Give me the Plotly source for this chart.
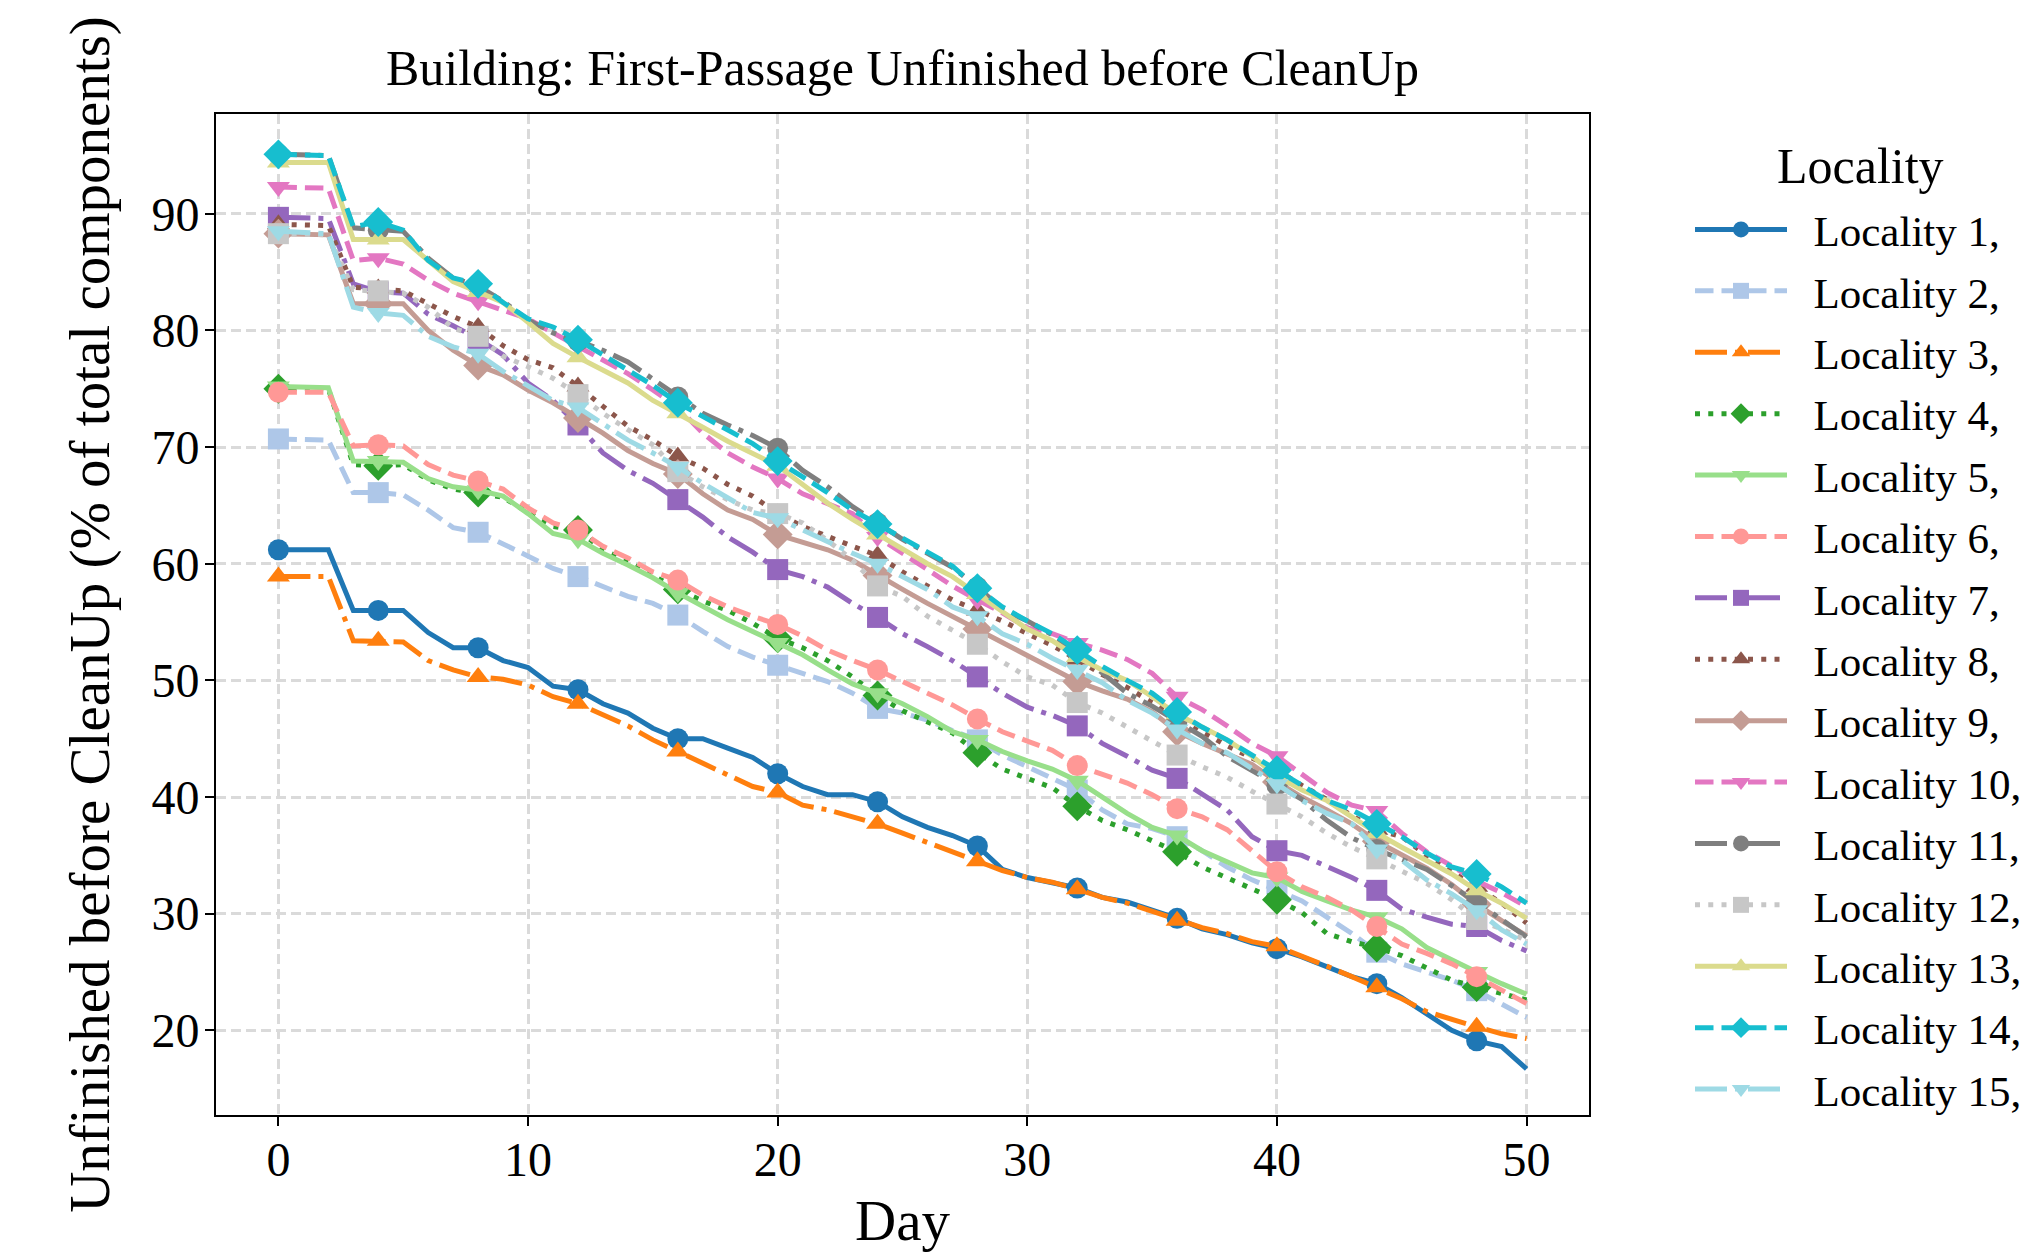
import plotly.graph_objects as go

days = list(range(51))

loc1 = [61.2, 61.2, 61.2, 56.0, 56.0, 56.0, 54.1, 52.8, 52.8, 51.7,
        51.1, 49.5, 49.2, 48.0, 47.2, 45.9, 45.0, 45.0, 44.2, 43.4,
        42.0, 40.9, 40.2, 40.2, 39.6, 38.3, 37.4, 36.7, 35.8, 33.8,
        33.1, 32.7, 32.2, 31.4, 31.0, 30.3, 29.6, 28.7, 28.2, 27.5,
        27.0, 26.3, 25.4, 24.6, 24.0, 22.8, 21.4, 20.0, 19.1, 18.6,
        16.7]
loc2 = [70.7, 70.7, 70.6, 66.1, 66.1, 65.9, 64.6, 63.1, 62.7, 61.7,
        60.7, 59.6, 58.9, 58.1, 57.2, 56.6, 55.6, 54.2, 52.9, 52.0,
        51.3, 50.6, 49.9, 48.9, 47.6, 47.2, 46.6, 45.7, 44.9, 43.6,
        42.6, 41.7, 40.6, 38.9, 37.7, 37.3, 36.6, 35.4, 34.0, 32.9,
        32.0, 31.1, 29.7, 28.3, 26.7, 25.7, 25.0, 24.3, 23.4, 22.3,
        21.1]
loc3 = [58.9, 58.9, 58.9, 53.4, 53.4, 53.3, 51.7, 50.9, 50.3, 50.1,
        49.6, 48.6, 48.0, 47.0, 46.1, 44.9, 43.9, 42.9, 41.9, 40.9,
        40.4, 39.3, 38.9, 38.3, 37.7, 36.9, 36.1, 35.3, 34.5, 33.7,
        33.1, 32.7, 32.1, 31.4, 30.9, 30.2, 29.4, 28.8, 28.3, 27.6,
        27.2, 26.4, 25.5, 24.6, 23.7, 22.7, 21.6, 20.9, 20.3, 19.7,
        19.3]
loc4 = [75.0, 75.0, 75.0, 68.5, 68.4, 68.5, 67.2, 66.4, 66.1, 65.7,
        64.4, 63.2, 62.9, 61.2, 60.2, 59.0, 57.8, 56.8, 56.0, 54.9,
        53.6, 52.8, 51.7, 50.3, 48.7, 47.4, 46.4, 45.5, 43.8, 42.4,
        41.6, 40.8, 39.2, 38.0, 37.2, 36.3, 35.3, 34.0, 33.1, 32.2,
        31.2, 30.1, 28.3, 27.6, 27.1, 26.4, 25.4, 24.3, 23.7, 23.1,
        22.6]
loc5 = [75.2, 75.2, 75.1, 68.8, 68.8, 68.7, 67.3, 66.6, 66.3, 65.8,
        64.3, 62.6, 62.1, 60.9, 59.9, 58.8, 57.5, 56.3, 55.2, 54.2,
        53.2, 52.2, 50.9, 49.7, 48.9, 48.0, 46.9, 45.6, 44.9, 43.9,
        43.1, 42.4, 41.4, 40.0, 38.6, 37.4, 36.7, 35.4, 34.4, 33.5,
        33.1, 31.9, 31.1, 30.3, 29.7, 28.7, 27.1, 26.0, 25.0, 24.0,
        23.1]
loc6 = [74.7, 74.7, 74.7, 70.1, 70.2, 70.1, 68.5, 67.6, 67.1, 66.4,
        64.8, 63.5, 62.9, 61.5, 60.5, 59.3, 58.6, 57.3, 56.3, 55.5,
        54.8, 53.8, 52.6, 51.7, 50.9, 49.9, 48.9, 47.9, 46.7, 45.6,
        44.8, 44.0, 42.7, 42.0, 41.2, 40.2, 39.0, 38.3, 37.2, 35.4,
        33.6, 32.3, 31.4, 30.3, 28.9, 27.4, 26.6, 25.7, 24.6, 23.4,
        22.3]
loc7 = [89.7, 89.7, 89.6, 84.0, 83.3, 83.2, 81.4, 80.4, 79.3, 77.9,
        75.5, 74.0, 71.9, 69.5, 68.0, 66.9, 65.5, 64.0, 62.3, 61.0,
        59.5, 58.9, 58.0, 56.6, 55.4, 54.0, 52.9, 51.7, 50.3, 48.9,
        47.7, 47.0, 46.1, 44.6, 43.5, 42.3, 41.6, 40.3, 38.9, 36.6,
        35.4, 35.0, 34.1, 33.1, 32.0, 30.4, 29.7, 29.1, 28.9, 27.7,
        26.8]
loc8 = [89.1, 89.1, 89.0, 83.7, 83.6, 83.4, 82.3, 81.2, 80.3, 78.7,
        77.5, 76.8, 75.2, 73.5, 71.8, 70.6, 69.2, 68.2, 66.8, 65.8,
        64.3, 63.2, 62.3, 61.5, 60.7, 59.3, 58.1, 56.9, 56.0, 55.1,
        54.0, 53.0, 51.8, 50.5, 49.4, 48.1, 47.0, 45.6, 44.4, 43.4,
        42.3, 41.0, 39.8, 38.4, 37.2, 36.6, 35.0, 33.6, 32.3, 30.9,
        29.2]
loc9 = [88.3, 88.3, 88.2, 82.3, 82.3, 82.3, 80.0, 78.3, 77.0, 76.2,
        74.9, 73.8, 72.5, 71.2, 69.7, 68.6, 67.7, 66.0, 64.6, 63.8,
        62.5, 61.8, 61.2, 60.3, 59.0, 57.8, 56.6, 55.5, 54.4, 53.3,
        52.2, 51.0, 49.9, 49.1, 48.4, 47.3, 45.6, 44.6, 43.7, 42.8,
        41.3, 40.0, 38.9, 37.7, 36.2, 35.0, 33.9, 32.5, 30.8, 29.4,
        28.1]
loc10 = [92.3, 92.3, 92.2, 86.0, 86.2, 85.7, 84.3, 83.2, 82.5, 81.7,
         81.0, 79.8, 78.6, 77.5, 76.3, 74.9, 73.4, 71.2, 69.5, 68.3,
         67.3, 66.0, 65.2, 64.3, 62.3, 60.9, 59.5, 58.1, 56.9, 55.8,
         54.5, 54.0, 53.2, 52.6, 51.8, 50.6, 48.6, 47.5, 46.1, 44.6,
         43.5, 42.0, 40.4, 39.3, 38.8, 36.9, 35.3, 34.1, 32.8, 31.8,
         30.6]
loc11 = [95.1, 95.1, 95.0, 88.8, 88.6, 88.5, 86.2, 84.5, 83.8, 82.5,
         80.9, 79.8, 79.1, 78.3, 77.3, 75.8, 74.3, 72.9, 71.9, 71.0,
         69.9, 68.0, 66.6, 64.9, 63.5, 62.1, 60.9, 59.7, 58.0, 56.1,
         55.1, 53.9, 52.4, 50.6, 48.9, 47.8, 46.5, 45.2, 43.5, 42.3,
         41.0, 39.8, 38.0, 36.5, 35.5, 34.6, 33.8, 32.4, 31.0, 29.5,
         28.0]
loc12 = [88.3, 88.3, 88.2, 83.5, 83.4, 83.2, 82.0, 80.2, 79.5, 77.8,
         76.9, 75.9, 74.5, 72.9, 71.5, 70.2, 67.9, 66.6, 65.5, 64.6,
         64.3, 63.5, 62.0, 60.3, 58.1, 57.2, 55.5, 54.3, 53.1, 51.6,
         50.3, 49.6, 48.1, 47.2, 46.0, 44.9, 43.6, 42.6, 41.7, 40.5,
         39.4, 38.3, 36.9, 35.7, 34.7, 33.7, 32.6, 31.2, 29.5, 28.7,
         27.7]
loc13 = [94.4, 94.4, 94.4, 87.8, 87.8, 87.8, 86.0, 84.2, 83.3, 82.4,
         80.7, 78.9, 77.7, 76.6, 75.5, 74.0, 72.9, 71.7, 70.5, 69.5,
         68.4, 66.8, 65.2, 63.8, 62.5, 61.2, 60.0, 58.9, 57.4, 55.9,
         54.4, 53.4, 52.0, 50.9, 50.0, 48.6, 47.1, 46.0, 44.9, 43.5,
         41.8, 40.6, 39.7, 38.3, 36.9, 35.7, 34.6, 33.4, 32.0, 30.9,
         29.6]
loc14 = [95.1, 95.1, 95.0, 88.9, 89.3, 88.6, 86.0, 84.5, 84.0, 82.4,
         81.0, 80.3, 79.2, 77.9, 76.6, 75.3, 73.8, 72.6, 71.5, 70.3,
         68.8, 67.5, 66.1, 64.6, 63.4, 62.2, 61.0, 59.8, 57.9, 56.3,
         55.1, 54.0, 52.6, 51.2, 50.0, 48.9, 47.3, 46.0, 44.9, 43.6,
         42.3, 41.0, 39.7, 38.9, 37.7, 36.6, 35.2, 34.0, 33.4, 32.3,
         30.9]
loc15 = [88.5, 88.4, 88.3, 82.0, 81.5, 81.3, 79.5, 78.6, 78.0, 76.5,
         75.2, 74.0, 73.4, 72.0, 70.6, 69.5, 68.3, 66.9, 65.7, 64.4,
         63.9, 62.9, 61.8, 60.9, 60.0, 58.9, 57.8, 56.3, 55.5, 54.0,
         53.1, 51.9, 50.9, 49.8, 48.3, 47.2, 45.8, 44.6, 43.8, 42.5,
         41.1, 39.7, 38.6, 37.7, 35.5, 34.6, 32.9, 31.7, 30.3, 28.6,
         27.4]

series = [loc1, loc2, loc3, loc4, loc5, loc6, loc7, loc8, loc9, loc10,
          loc11, loc12, loc13, loc14, loc15]
names = ["Locality %d," % (i + 1) for i in range(15)]
legend_title = "Locality"
x_ticks = [0, 10, 20, 30, 40, 50]
y_ticks = [20, 30, 40, 50, 60, 70, 80, 90]
for s in series:
    assert len(s) == len(days)

colors = ["#1f77b4", "#aec7e8", "#ff7f0e", "#2ca02c", "#98df8a", "#ff9896",
          "#9467bd", "#8c564b", "#c49c94", "#e377c2", "#7f7f7f", "#c7c7c7",
          "#dbdb8d", "#17becf", "#9edae5"]
symbols_cycle = ["circle", "square", "triangle-up", "diamond", "triangle-down"]
sizes_cycle = [21, 21, 20, 23, 20]
LW = 5
dash_cycle = ["solid", "18.5px,8px", "32px,8px,5px,8px", "5px,8.25px"]

FONT = "Liberation Serif, Times New Roman, serif"
NBSP = "\u00a0"

W, H = 2032, 1252
ML, MR, MT, MB = 216, 443, 114, 137
plot_w = W - ML - MR
plot_h = H - MT - MB

fig = go.Figure()
for i, (vals, name, col) in enumerate(zip(series, names, colors)):
    sym = symbols_cycle[i % 5]
    msz = sizes_cycle[i % 5]
    dash = dash_cycle[i % 4]
    fig.add_trace(go.Scatter(x=days, y=vals, mode="lines",
                             line=dict(color=col, width=LW, dash=dash),
                             showlegend=False, hoverinfo="skip"))
    fig.add_trace(go.Scatter(x=days[::4], y=vals[::4], mode="markers",
                             marker=dict(symbol=sym, size=msz, color=col,
                                         line=dict(width=0)),
                             showlegend=False, hoverinfo="skip"))
for i, (name, col) in enumerate(zip(names, colors)):
    fig.add_trace(go.Scatter(x=[None], y=[None], mode="lines+markers",
                             name=NBSP * 2 + name, legendgroup="g%d" % i,
                             line=dict(color=col, width=LW, dash=dash_cycle[i % 4]),
                             marker=dict(symbol=symbols_cycle[i % 5], size=sizes_cycle[i % 5],
                                         color=col, line=dict(width=0))))

axis_common = dict(
    showgrid=True, gridcolor="#dadada", griddash="10px,5px", gridwidth=2.5,
    showline=True, linecolor="black", linewidth=2, mirror=True,
    ticks="outside", ticklen=9, tickwidth=2, tickcolor="black",
    tickfont=dict(family=FONT, size=48, color="black"),
    zeroline=False, automargin=False,
)

fig.update_layout(
    width=W, height=H, autosize=False,
    margin=dict(l=ML, r=MR, t=MT, b=MB, autoexpand=False),
    paper_bgcolor="white", plot_bgcolor="white",
    font=dict(family=FONT, color="black"),
    title=dict(text="Building: First-Passage Unfinished before CleanUp",
               font=dict(family=FONT, size=50, color="black"),
               x=0.5, xref="paper", xanchor="center",
               y=1 - 67 / H, yref="container", yanchor="middle"),
    xaxis=dict(range=[-2.5, 52.5], tickvals=x_ticks, ticklabelstandoff=-8,
               title=dict(text="Day", font=dict(family=FONT, size=57, color="black"),
                          standoff=22),
               **axis_common),
    yaxis=dict(range=[12.74, 98.56], tickvals=y_ticks, ticklabelstandoff=-4,
               title=dict(text="Unfinished before CleanUp (% of total components)",
                          font=dict(family=FONT, size=57, color="black"),
                          standoff=23),
               **axis_common),
    legend=dict(x=(1690 - ML) / plot_w, y=1 - (195 - MT) / plot_h,
                xanchor="left", yanchor="top",
                font=dict(family=FONT, size=43, color="black"),
                itemwidth=92, bgcolor="rgba(0,0,0,0)", borderwidth=0,
                traceorder="grouped", tracegroupgap=2.5),
    annotations=[dict(text=legend_title,
                      x=(1861 - ML) / plot_w, y=1 - (166 - MT) / plot_h,
                      xref="paper", yref="paper", xanchor="center", yanchor="middle",
                      showarrow=False,
                      font=dict(family=FONT, size=50, color="black"))],
)

fig.write_html("out.html")
